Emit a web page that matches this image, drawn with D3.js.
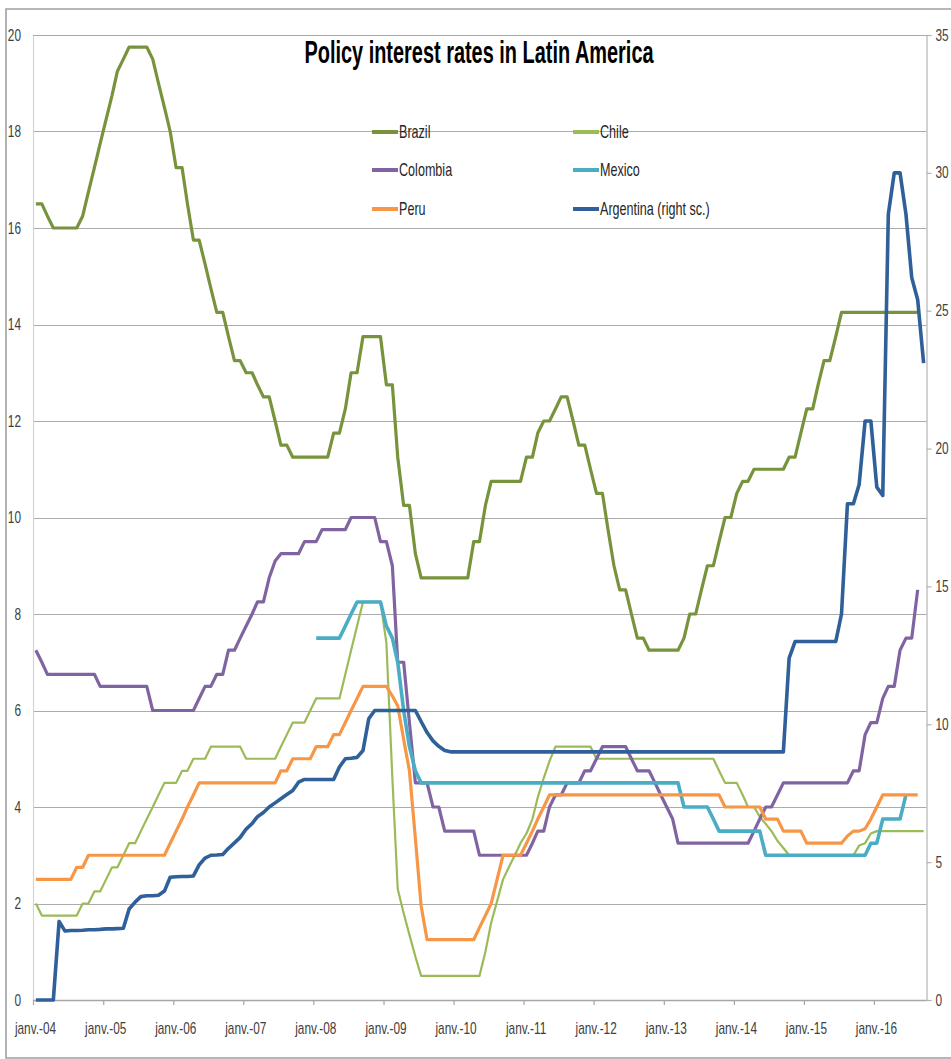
<!DOCTYPE html>
<html>
<head>
<meta charset="utf-8">
<script src="https://cdn.jsdelivr.net/npm/d3@7"></script>
<style>
  html, body { margin: 0; padding: 0; background: #fff; }
  svg { display: block; font-family: "Liberation Sans", Arial, sans-serif; }
</style>
</head>
<body>
<script>
// Monthly policy rates, January 2004 onwards (one value per month, null = no data)
const firstYear = 2004;
const monthCount = 153;

const brazil = [
  16.5,16.5,16.25,16,16,16,16,16,16.25,16.75,17.25,17.75,
  18.25,18.75,19.25,19.5,19.75,19.75,19.75,19.75,19.5,19,18.5,18,
  17.25,17.25,16.5,15.75,15.75,15.25,14.75,14.25,14.25,13.75,13.25,13.25,
  13,13,12.75,12.5,12.5,12,11.5,11.5,11.25,11.25,11.25,11.25,
  11.25,11.25,11.25,11.75,11.75,12.25,13,13,13.75,13.75,13.75,13.75,
  12.75,12.75,11.25,10.25,10.25,9.25,8.75,8.75,8.75,8.75,8.75,8.75,
  8.75,8.75,8.75,9.5,9.5,10.25,10.75,10.75,10.75,10.75,10.75,10.75,
  11.25,11.25,11.75,12,12,12.25,12.5,12.5,12,11.5,11.5,11,
  10.5,10.5,9.75,9,8.5,8.5,8,7.5,7.5,7.25,7.25,7.25,
  7.25,7.25,7.25,7.5,8,8,8.5,9,9,9.5,10,10,
  10.5,10.75,10.75,11,11,11,11,11,11,11.25,11.25,11.75,
  12.25,12.25,12.75,13.25,13.25,13.75,14.25,14.25,14.25,14.25,14.25,14.25,
  14.25,14.25,14.25,14.25,14.25,14.25,14.25,14.25,null
];

const chile = [
  2,1.75,1.75,1.75,1.75,1.75,1.75,1.75,2,2,2.25,2.25,
  2.5,2.75,2.75,3,3.25,3.25,3.5,3.75,4,4.25,4.5,4.5,
  4.5,4.75,4.75,5,5,5,5.25,5.25,5.25,5.25,5.25,5.25,
  5,5,5,5,5,5,5.25,5.5,5.75,5.75,5.75,6,
  6.25,6.25,6.25,6.25,6.25,6.75,7.25,7.75,8.25,8.25,8.25,8.25,
  7.4,4.6,2.3,1.8,1.35,0.9,0.5,0.5,0.5,0.5,0.5,0.5,
  0.5,0.5,0.5,0.5,0.5,1,1.6,2.05,2.5,2.75,3,3.25,
  3.45,3.75,4.2,4.6,4.95,5.25,5.25,5.25,5.25,5.25,5.25,5.25,
  5,5,5,5,5,5,5,5,5,5,5,5,
  5,5,5,5,5,5,5,5,5,4.75,4.5,4.5,
  4.5,4.25,4,4,3.8,3.65,3.5,3.3,3.15,3,3,3,
  3,3,3,3,3,3,3,3,3,3.2,3.25,3.45,
  3.5,3.5,3.5,3.5,3.5,3.5,3.5,3.5,3.5
];

const colombia = [
  7.25,7,6.75,6.75,6.75,6.75,6.75,6.75,6.75,6.75,6.75,6.5,
  6.5,6.5,6.5,6.5,6.5,6.5,6.5,6.5,6,6,6,6,
  6,6,6,6,6.25,6.5,6.5,6.75,6.75,7.25,7.25,7.5,
  7.75,8,8.25,8.25,8.75,9.1,9.25,9.25,9.25,9.25,9.5,9.5,
  9.5,9.75,9.75,9.75,9.75,9.75,10,10,10,10,10,9.5,
  9.5,9,7,7,5.75,4.5,4.5,4.5,4,4,3.5,3.5,
  3.5,3.5,3.5,3.5,3,3,3,3,3,3,3,3,
  3,3.25,3.5,3.5,4,4.25,4.25,4.5,4.5,4.5,4.75,4.75,
  5,5.25,5.25,5.25,5.25,5.25,5,4.75,4.75,4.75,4.5,4.25,
  4,3.75,3.25,3.25,3.25,3.25,3.25,3.25,3.25,3.25,3.25,3.25,
  3.25,3.25,3.25,3.5,3.75,4,4,4.25,4.5,4.5,4.5,4.5,
  4.5,4.5,4.5,4.5,4.5,4.5,4.5,4.5,4.75,4.75,5.5,5.75,
  5.75,6.25,6.5,6.5,7.25,7.5,7.5,8.5,null
];

const mexico = [
  null,null,null,null,null,null,null,null,null,null,null,null,
  null,null,null,null,null,null,null,null,null,null,null,null,
  null,null,null,null,null,null,null,null,null,null,null,null,
  null,null,null,null,null,null,null,null,null,null,null,null,
  7.5,7.5,7.5,7.5,7.5,7.75,8,8.25,8.25,8.25,8.25,8.25,
  7.75,7.5,7,6,5.25,4.75,4.5,4.5,4.5,4.5,4.5,4.5,
  4.5,4.5,4.5,4.5,4.5,4.5,4.5,4.5,4.5,4.5,4.5,4.5,
  4.5,4.5,4.5,4.5,4.5,4.5,4.5,4.5,4.5,4.5,4.5,4.5,
  4.5,4.5,4.5,4.5,4.5,4.5,4.5,4.5,4.5,4.5,4.5,4.5,
  4.5,4.5,4.5,4,4,4,4,4,3.75,3.5,3.5,3.5,
  3.5,3.5,3.5,3.5,3.5,3,3,3,3,3,3,3,
  3,3,3,3,3,3,3,3,3,3,3,3.25,
  3.25,3.75,3.75,3.75,3.75,4.25,null,null,null
];

const peru = [
  2.5,2.5,2.5,2.5,2.5,2.5,2.5,2.75,2.75,3,3,3,
  3,3,3,3,3,3,3,3,3,3,3,3.25,
  3.5,3.75,4,4.25,4.5,4.5,4.5,4.5,4.5,4.5,4.5,4.5,
  4.5,4.5,4.5,4.5,4.5,4.5,4.75,4.75,5,5,5,5,
  5.25,5.25,5.25,5.5,5.5,5.75,6,6.25,6.5,6.5,6.5,6.5,
  6.5,6.3,6.1,5.4,4.75,3.35,1.95,1.25,1.25,1.25,1.25,1.25,
  1.25,1.25,1.25,1.25,1.5,1.75,2,2.5,3,3,3,3,
  3.25,3.5,3.75,4,4.25,4.25,4.25,4.25,4.25,4.25,4.25,4.25,
  4.25,4.25,4.25,4.25,4.25,4.25,4.25,4.25,4.25,4.25,4.25,4.25,
  4.25,4.25,4.25,4.25,4.25,4.25,4.25,4.25,4.25,4.25,4,4,
  4,4,4,4,4,3.75,3.75,3.75,3.5,3.5,3.5,3.5,
  3.25,3.25,3.25,3.25,3.25,3.25,3.25,3.4,3.5,3.5,3.55,3.75,
  4,4.25,4.25,4.25,4.25,4.25,4.25,4.25,null
];

// Argentina is read on the right-hand scale
const argentina = [
  0,0,0,0,2.85,2.5,2.52,2.52,2.53,2.55,2.55,2.56,
  2.58,2.58,2.59,2.6,3.3,3.55,3.75,3.78,3.78,3.8,3.95,4.45,
  4.47,4.48,4.48,4.5,4.9,5.15,5.25,5.26,5.28,5.5,5.7,5.9,
  6.2,6.4,6.65,6.8,7,7.15,7.3,7.45,7.6,7.9,8,8,
  8,8,8,8,8.45,8.75,8.77,8.8,9.05,10.2,10.5,10.5,
  10.5,10.5,10.5,10.5,10.5,10.5,10.1,9.7,9.4,9.2,9.05,9,
  9,9,9,9,9,9,9,9,9,9,9,9,
  9,9,9,9,9,9,9,9,9,9,9,9,
  9,9,9,9,9,9,9,9,9,9,9,9,
  9,9,9,9,9,9,9,9,9,9,9,9,
  9,9,9,9,9,9,9,9,9,12.4,13,13,
  13,13,13,13,13,13,14,18,18,18.7,21,21,
  18.6,18.3,28.5,30,30,28.5,26.2,25.4,23.1
];

const seriesNames = ["Brazil", "Chile", "Colombia", "Mexico", "Peru", "Argentina (right sc.)"];
const seriesValues = [brazil, chile, colombia, mexico, peru, argentina];

const leftTicks = [0, 2, 4, 6, 8, 10, 12, 14, 16, 18, 20];
const rightTicks = [0, 5, 10, 15, 20, 25, 30, 35];
const yearTicks = [2004, 2005, 2006, 2007, 2008, 2009, 2010, 2011, 2012, 2013, 2014, 2015, 2016];
const yearLabels = ["janv.-04", "janv.-05", "janv.-06", "janv.-07", "janv.-08", "janv.-09", "janv.-10",
                    "janv.-11", "janv.-12", "janv.-13", "janv.-14", "janv.-15", "janv.-16"];
const chartTitle = "Policy interest rates in Latin America";

// ---- drawing ----
const W = 951, H = 1059;
const plot = { left: 33, right: 926.5, top: 35, bottom: 1000 };

const styles = [
  { color: "#77933c", width: 3.2, axis: "left" },
  { color: "#9bbb59", width: 2.2, axis: "left" },
  { color: "#8064a2", width: 3.2, axis: "left" },
  { color: "#4bacc6", width: 3.6, axis: "left" },
  { color: "#f79646", width: 3.2, axis: "left" },
  { color: "#2f6099", width: 3.6, axis: "right" }
];

const svg = d3.select("body").append("svg")
  .attr("width", W).attr("height", H);

// chart frame
svg.append("path")
  .attr("d", `M${W},9 H6 V1058 H${W}`)
  .attr("fill", "none").attr("stroke", "#a0a0a0").attr("stroke-width", 1.6);

const x = d3.scaleTime()
  .domain([new Date(firstYear, 0, 1), new Date(firstYear, monthCount, 1)])
  .range([plot.left, plot.right]);
const yL = d3.scaleLinear().domain([0, 20]).range([plot.bottom, plot.top]);
const yR = d3.scaleLinear().domain([0, 35]).range([plot.bottom, plot.top]);

const monthDate = i => new Date(firstYear, i, 16);

// horizontal gridlines
svg.append("g").selectAll("line").data(leftTicks.filter(v => v > 0)).join("line")
  .attr("x1", plot.left).attr("x2", plot.right)
  .attr("y1", d => Math.round(yL(d)) + 0.5).attr("y2", d => Math.round(yL(d)) + 0.5)
  .attr("stroke", "#ababab").attr("stroke-width", 1.2);

const SX = 0.74; // horizontal squeeze applied to all lettering

// left axis
const gL = svg.append("g").attr("transform", `translate(${plot.left},0)`)
  .call(d3.axisLeft(yL).tickValues(leftTicks).tickSize(0).tickPadding(12));
gL.select(".domain").attr("stroke", "#d4d4d4").attr("stroke-width", 1.2);
gL.selectAll("text")
  .attr("x", -12 / SX).attr("transform", `scale(${SX},1)`)
  .attr("font-size", 16).attr("fill", "#404040")
  .attr("font-family", "Liberation Sans, Arial, sans-serif");

// right axis
const gR = svg.append("g").attr("transform", `translate(${plot.right},0)`)
  .call(d3.axisRight(yR).tickValues(rightTicks).tickSize(5).tickPadding(4));
gR.select(".domain").attr("stroke", "#b4b4b4").attr("stroke-width", 1.2);
gR.selectAll(".tick line").attr("stroke", "#b4b4b4").attr("stroke-width", 1.2);
gR.selectAll("text")
  .attr("x", 9 / SX).attr("transform", `scale(${SX},1)`)
  .attr("font-size", 16).attr("fill", "#404040")
  .attr("font-family", "Liberation Sans, Arial, sans-serif");

// bottom axis
const gB = svg.append("g").attr("transform", `translate(0,${plot.bottom})`)
  .call(d3.axisBottom(x)
    .tickValues(yearTicks.map(y => new Date(y, 0, 1)))
    .tickSize(5).tickPadding(18)
    .tickFormat((d, i) => yearLabels[i]));
gB.select(".domain").attr("stroke", "#a6a6a6").attr("stroke-width", 1.4)
  .attr("d", `M${plot.left},0.5H${plot.right}`);
gB.selectAll(".tick line").attr("stroke", "#a6a6a6").attr("stroke-width", 1.2);
gB.selectAll("text")
  .attr("x", 2 / SX).attr("transform", `scale(${SX},1)`)
  .attr("font-size", 16).attr("fill", "#404040")
  .attr("font-family", "Liberation Sans, Arial, sans-serif");

// top border of the plot area
svg.append("line")
  .attr("x1", plot.left).attr("x2", plot.right)
  .attr("y1", plot.top + 0.5).attr("y2", plot.top + 0.5)
  .attr("stroke", "#a8a8a8").attr("stroke-width", 1.2);

// series lines
const gLines = svg.append("g");
seriesValues.forEach((vals, k) => {
  const st = styles[k];
  const ys = st.axis === "right" ? yR : yL;
  const pts = vals.map((v, i) => ({ date: monthDate(i), v }));
  const line = d3.line()
    .defined(d => d.v != null)
    .x(d => x(d.date))
    .y(d => ys(d.v));
  gLines.append("path")
    .datum(pts)
    .attr("d", line)
    .attr("fill", "none")
    .attr("stroke", st.color)
    .attr("stroke-width", st.width)
    .attr("stroke-linejoin", "round")
    .attr("stroke-linecap", "butt");
});

// title
svg.append("text")
  .attr("transform", `translate(479,63) scale(0.643,1)`)
  .attr("text-anchor", "middle")
  .attr("font-size", 31).attr("font-weight", "bold").attr("fill", "#000")
  .text(chartTitle);

// legend: three rows, two columns
const legendCols = [372, 573];
const legendRows = [132, 170, 209];
const gLeg = svg.append("g");
seriesNames.forEach((name, k) => {
  const cx = legendCols[k % 2];
  const cy = legendRows[Math.floor(k / 2)];
  gLeg.append("line")
    .attr("x1", cx).attr("x2", cx + 26)
    .attr("y1", cy).attr("y2", cy)
    .attr("stroke", styles[k].color).attr("stroke-width", 4);
  gLeg.append("text")
    .attr("transform", `translate(${cx + 27},${cy}) scale(0.70,1)`)
    .attr("dy", "0.36em")
    .attr("font-size", 18).attr("fill", "#262626")
    .text(name);
});
</script>
</body>
</html>
